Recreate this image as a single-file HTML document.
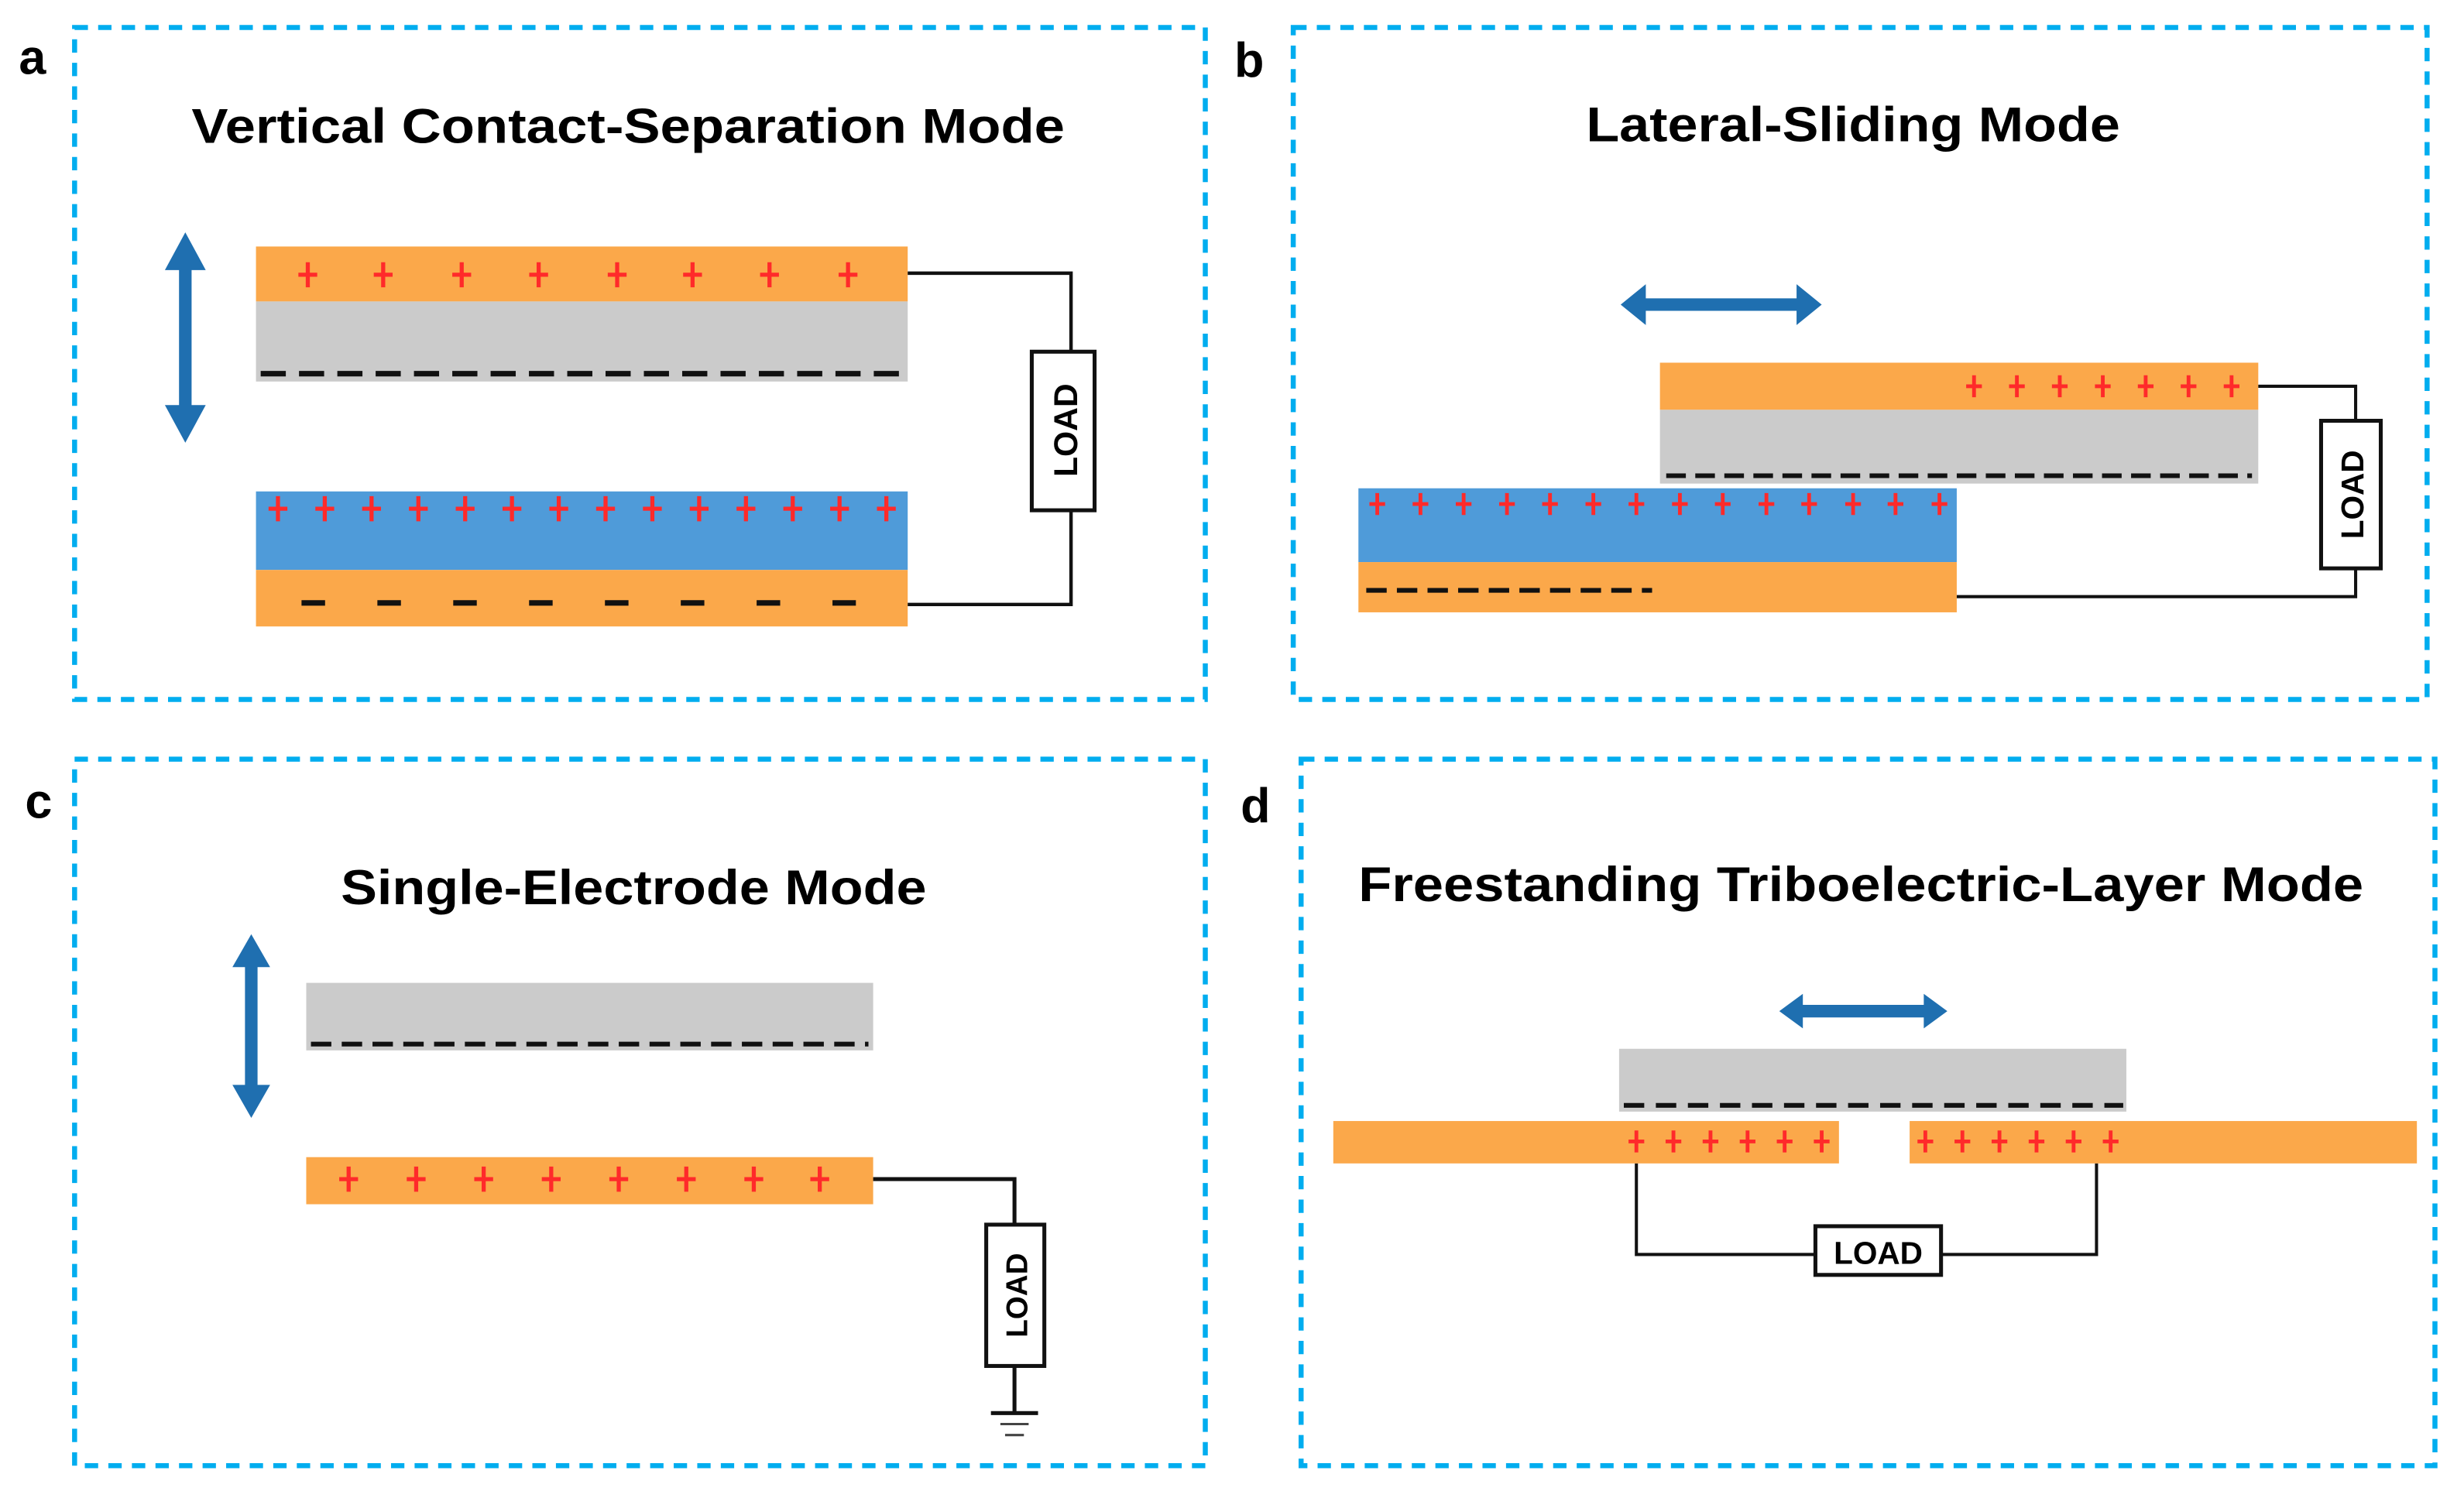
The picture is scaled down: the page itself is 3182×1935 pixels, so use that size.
<!DOCTYPE html>
<html><head><meta charset="utf-8"><style>html,body{margin:0;padding:0;background:#fff}svg{display:block}</style></head><body>
<svg xmlns="http://www.w3.org/2000/svg" width="3182" height="1935" viewBox="0 0 1569 954.1" preserveAspectRatio="none" font-family="Liberation Sans, Arial, sans-serif">
<defs>
<g id="p"><path d="M-6 0H6M0 -8V8" stroke="#ff2a2a" stroke-width="2.6"/></g>
<g id="ps"><path d="M-5 0H5M0 -7V7" stroke="#ff2a2a" stroke-width="2.4"/></g>
</defs>
<g fill="none" stroke="#00adef" stroke-width="3.2" stroke-dasharray="8.5 6.5">
<rect x="47.5" y="17.5" width="720" height="428"/>
<rect x="823.5" y="17.5" width="722" height="428"/>
<rect x="47.5" y="483.5" width="720" height="450"/>
<rect x="828.5" y="483.5" width="722" height="450"/>
</g>
<g font-weight="bold" font-size="31" fill="#000">
<text x="12" y="47">a</text><text x="786" y="49">b</text><text x="16" y="521">c</text><text x="790" y="524">d</text>
</g>
<g font-weight="bold" font-size="31" fill="#000">
<text x="122" y="91" textLength="556" lengthAdjust="spacingAndGlyphs">Vertical Contact-Separation Mode</text>
<text x="1010" y="90" textLength="340" lengthAdjust="spacingAndGlyphs">Lateral-Sliding Mode</text>
<text x="217" y="576" textLength="373" lengthAdjust="spacingAndGlyphs">Single-Electrode Mode</text>
<text x="865" y="574" textLength="640" lengthAdjust="spacingAndGlyphs">Freestanding Triboelectric-Layer Mode</text>
</g>
<!-- panel a -->
<rect x="163" y="157" width="415" height="35" fill="#fba84a"/>
<rect x="163" y="192" width="415" height="51" fill="#cbcbcb"/>
<line x1="166" y1="238" x2="575" y2="238" stroke="#111" stroke-width="3.5" stroke-dasharray="16 8.4"/>
<g><use href="#p" x="196" y="175"/><use href="#p" x="244" y="175"/><use href="#p" x="294" y="175"/><use href="#p" x="343" y="175"/><use href="#p" x="393" y="175"/><use href="#p" x="441" y="175"/><use href="#p" x="490" y="175"/><use href="#p" x="540" y="175"/></g>
<rect x="163" y="313" width="415" height="50" fill="#4f9bd9"/>
<rect x="163" y="363" width="415" height="36" fill="#fba84a"/>
<g><use href="#p" x="177" y="324"/><use href="#p" x="206.8" y="324"/><use href="#p" x="236.6" y="324"/><use href="#p" x="266.4" y="324"/><use href="#p" x="296.2" y="324"/><use href="#p" x="326" y="324"/><use href="#p" x="355.8" y="324"/><use href="#p" x="385.6" y="324"/><use href="#p" x="415.4" y="324"/><use href="#p" x="445.2" y="324"/><use href="#p" x="475" y="324"/><use href="#p" x="504.8" y="324"/><use href="#p" x="534.6" y="324"/><use href="#p" x="564.4" y="324"/></g>
<line x1="192" y1="384" x2="545" y2="384" stroke="#111" stroke-width="3.5" stroke-dasharray="15 33.3"/>
<path d="M578 174H682V385H578" fill="none" stroke="#111" stroke-width="2.2"/>
<rect x="657" y="224" width="40" height="101" fill="#fff" stroke="#111" stroke-width="2.5"/>
<text transform="translate(686 274) rotate(-90)" text-anchor="middle" font-weight="bold" font-size="21">LOAD</text>
<path d="M118 148L131 172H122V258H131L118 282L105 258H114V172H105Z" fill="#1f6fb0"/>
<!-- panel b -->
<path d="M1032 194L1048 181V190H1144V181L1160 194L1144 207V198H1048V207Z" fill="#1f6fb0"/>
<rect x="1057" y="231" width="381" height="30" fill="#fba84a"/>
<rect x="1057" y="261" width="381" height="47" fill="#cbcbcb"/>
<line x1="1061" y1="303" x2="1434" y2="303" stroke="#111" stroke-width="3" stroke-dasharray="12.5 6"/>
<g><use href="#ps" x="1257" y="246"/><use href="#ps" x="1284.3" y="246"/><use href="#ps" x="1311.6" y="246"/><use href="#ps" x="1339" y="246"/><use href="#ps" x="1366.3" y="246"/><use href="#ps" x="1393.6" y="246"/><use href="#ps" x="1421" y="246"/></g>
<rect x="865" y="311" width="381" height="47" fill="#4f9bd9"/>
<rect x="865" y="358" width="381" height="32" fill="#fba84a"/>
<g><use href="#ps" x="877" y="321"/><use href="#ps" x="904.5" y="321"/><use href="#ps" x="932" y="321"/><use href="#ps" x="959.6" y="321"/><use href="#ps" x="987" y="321"/><use href="#ps" x="1014.6" y="321"/><use href="#ps" x="1042" y="321"/><use href="#ps" x="1069.7" y="321"/><use href="#ps" x="1097" y="321"/><use href="#ps" x="1124.8" y="321"/><use href="#ps" x="1152" y="321"/><use href="#ps" x="1180" y="321"/><use href="#ps" x="1207" y="321"/><use href="#ps" x="1235" y="321"/></g>
<line x1="870" y1="376" x2="1052" y2="376" stroke="#111" stroke-width="3" stroke-dasharray="13 6.5"/>
<path d="M1438 246H1500V380H1246" fill="none" stroke="#111" stroke-width="2"/>
<rect x="1478" y="268" width="38" height="94" fill="#fff" stroke="#111" stroke-width="2.5"/>
<text transform="translate(1505 315) rotate(-90)" text-anchor="middle" font-weight="bold" font-size="20">LOAD</text>
<!-- panel c -->
<path d="M160 595L172 616H164V691H172L160 712L148 691H156V616H148Z" fill="#1f6fb0"/>
<rect x="195" y="626" width="361" height="43" fill="#cbcbcb"/>
<line x1="198" y1="665" x2="553" y2="665" stroke="#111" stroke-width="3" stroke-dasharray="13 6.6"/>
<rect x="195" y="737" width="361" height="30" fill="#fba84a"/>
<g><use href="#p" x="222" y="751"/><use href="#p" x="265" y="751"/><use href="#p" x="308" y="751"/><use href="#p" x="351" y="751"/><use href="#p" x="394" y="751"/><use href="#p" x="437" y="751"/><use href="#p" x="480" y="751"/><use href="#p" x="522" y="751"/></g>
<path d="M556 751H646V780M646 870V900M631 900H661" fill="none" stroke="#111" stroke-width="2.5"/>
<path d="M637 907H655M640 914H652" stroke="#444" stroke-width="1.5"/>
<rect x="628" y="780" width="37" height="90" fill="#fff" stroke="#111" stroke-width="2.5"/>
<text transform="translate(654 825) rotate(-90)" text-anchor="middle" font-weight="bold" font-size="19">LOAD</text>
<!-- panel d -->
<path d="M1133 644L1148 633V640H1225V633L1240 644L1225 655V648H1148V655Z" fill="#1f6fb0"/>
<rect x="1031" y="668" width="323" height="40" fill="#cbcbcb"/>
<line x1="1034" y1="704" x2="1352" y2="704" stroke="#111" stroke-width="3" stroke-dasharray="13 7.4"/>
<rect x="849" y="714" width="322" height="27" fill="#fba84a"/>
<rect x="1216" y="714" width="323" height="27" fill="#fba84a"/>
<g><use href="#ps" x="1042" y="727"/><use href="#ps" x="1065.6" y="727"/><use href="#ps" x="1089.2" y="727"/><use href="#ps" x="1112.8" y="727"/><use href="#ps" x="1136.4" y="727"/><use href="#ps" x="1160" y="727"/><use href="#ps" x="1226" y="727"/><use href="#ps" x="1249.6" y="727"/><use href="#ps" x="1273.2" y="727"/><use href="#ps" x="1296.8" y="727"/><use href="#ps" x="1320.4" y="727"/><use href="#ps" x="1344" y="727"/></g>
<path d="M1042 741V799H1156M1236 799H1335V741" fill="none" stroke="#111" stroke-width="2"/>
<rect x="1156" y="781" width="80" height="31" fill="#fff" stroke="#111" stroke-width="2.5"/>
<text x="1196" y="805" text-anchor="middle" font-weight="bold" font-size="20">LOAD</text>
</svg>
</body></html>
